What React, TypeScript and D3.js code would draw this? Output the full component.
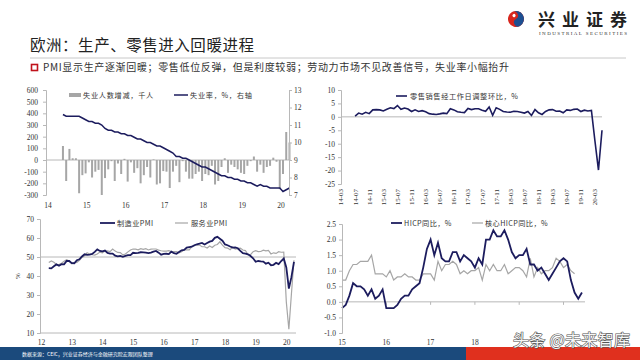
import * as d3 from "d3";
import { useEffect, useRef } from "react";

const NAVY = "#1c1c5e";
const GRAY = "#a6a6a6";
const AXIS = "#b8b8b8";
const NUM_FONT = "'Liberation Serif', 'Times New Roman', serif";
const CJK_FONT = "'Noto Sans CJK SC', 'Noto Sans', sans-serif";

// ---- chart 1: unemployment (monthly from 2014-05) ----
const unempYears = [2014, 2015, 2016, 2017, 2018, 2019, 2020];
const unempLeftTicks = [600, 500, 400, 300, 200, 100, 0, -100, -200, -300];
const unempRightTicks = [13, 12, 11, 10, 9, 8, 7];
const unempChange = [
  120, -180, 95, 15, 15, -285, -130, -115, -20, -150,
  -100, -85, -300, -155, -80, -10, -180, -30, -120, 10,
  -185, -20, -110, -70, -200, -130, -60, -150, 5, -210,
  -200, -95, -100, -240, -100, -50, -190, -10, -100, -160,
  -160, -120, -100, -180, -120, -130, -50, -210, -180, -60,
  15, -110, -40, -60, -80, -110, -120, -50, -10, 30,
  -100, -40, -110, -60, -50, 20, -15, -250, -120, 240, 150,
];
const unempRate = [
  11.6, 11.5, 11.5, 11.5, 11.5, 11.5, 11.4, 11.3,
  11.2, 11.2, 11.1, 11.1, 11.0, 10.8, 10.7, 10.7, 10.6, 10.6, 10.5, 10.5,
  10.4, 10.4, 10.3, 10.2, 10.2, 10.1, 10.0, 10.0, 9.9, 9.8, 9.8, 9.7,
  9.6, 9.5, 9.4, 9.2, 9.2, 9.1, 9.1, 9.0, 8.9, 8.8, 8.7, 8.6,
  8.6, 8.5, 8.4, 8.3, 8.2, 8.1, 8.1, 8.0, 8.0, 7.9, 7.9, 7.8,
  7.8, 7.7, 7.7, 7.6, 7.5, 7.6, 7.5, 7.5, 7.4, 7.4, 7.4, 7.4,
  7.2, 7.3, 7.4,
];

// ---- chart 2: retail sales mom (categories 2014-03 .. 2020-05, data from 2014-07) ----
const retailTickLabels = [
  "14-03", "14-07", "14-11", "15-03", "15-07", "15-11", "16-03", "16-07", "16-11",
  "17-03", "17-07", "17-11", "18-03", "18-07", "18-11", "19-03", "19-07", "19-11", "20-03",
];
const retailTicks = [10, 5, 0, -5, -10, -15, -20, -25];
const retailMoM = [
  0.3, 1.4, 1.0, 1.7, 1.2, 2.6,
  2.7, 2.6, 2.2, 2.8, 3.4, 3.1, 4.2, 2.8, 3.3, 2.9, 2.0, 2.6,
  2.0, 2.3, 1.9, 1.2, 1.0, 0.9, 1.1, 1.4, 1.2, 3.0, 2.6, 1.9,
  1.7, 1.6, 3.1, 2.7, 3.0, 3.0, 2.5, 2.1, 3.7, 0.6, 3.4, 2.8,
  2.0, 1.8, 1.7, 2.1, 2.0, 1.7, 1.4, 2.0, 0.5, 2.7, 1.5, 0.9,
  2.0, 2.6, 2.7, 2.1, 2.2, 1.5, 2.6, 2.4, 2.8, 2.9, 2.0, 2.5,
  2.2, 2.4, -9.0, -19.8, -5.0,
];

// ---- chart 3: PMI (monthly from 2012-06) ----
const pmiYears = [2012, 2013, 2014, 2015, 2016, 2017, 2018, 2019, 2020];
const pmiTicks = [70, 60, 50, 40, 30, 20, 10];
const mfgPmi = [
  44.1, 44.0, 45.1, 46.1, 45.4, 46.2, 46.1,
  47.9, 47.9, 46.8, 46.7, 48.3, 48.8, 50.3, 51.4, 51.1, 51.3, 51.6, 52.7,
  54.0, 53.2, 53.0, 53.4, 52.2, 51.8, 51.8, 50.7, 50.3, 50.6, 50.1, 50.6,
  51.0, 51.0, 52.2, 52.0, 52.2, 52.5, 52.4, 52.3, 52.0, 52.3, 52.8, 53.2,
  52.3, 51.2, 51.6, 51.7, 51.5, 52.8, 52.0, 51.7, 52.6, 53.5, 53.7, 54.9,
  55.2, 55.4, 56.2, 56.7, 57.0, 57.4, 56.6, 57.4, 58.1, 58.5, 60.1, 60.6,
  59.6, 58.6, 56.6, 56.2, 55.5, 54.9, 55.1, 54.6, 53.2, 52.0, 51.8, 51.4,
  50.5, 49.3, 47.5, 47.9, 47.7, 47.6, 46.5, 47.0, 45.7, 45.9, 46.9, 46.3,
  47.9, 49.2, 44.5, 33.4, 39.4, 47.4,
];
const svcPmi = [
  47.1, 47.9, 47.2, 46.1, 46.0, 46.7, 47.8,
  48.6, 47.9, 46.4, 47.0, 47.2, 48.3, 49.8, 50.7, 52.2, 51.6, 51.2, 51.0,
  51.6, 52.6, 52.2, 53.1, 53.2, 52.8, 54.2, 53.1, 52.4, 52.3, 51.1, 51.6,
  52.7, 53.7, 54.2, 54.1, 53.8, 54.4, 54.0, 54.4, 53.7, 54.1, 54.2, 54.2,
  53.6, 53.3, 53.1, 53.1, 53.3, 52.8, 52.9, 52.8, 52.2, 52.8, 53.8, 53.7,
  53.7, 55.5, 56.0, 56.4, 56.3, 55.4, 55.4, 54.7, 55.8, 55.0, 56.2, 56.6,
  58.0, 56.2, 54.9, 54.7, 53.8, 55.2, 54.2, 54.4, 54.7, 53.7, 53.4, 51.2,
  51.2, 52.8, 53.3, 52.8, 52.9, 53.6, 53.2, 53.5, 51.6, 52.2, 51.9, 52.8,
  52.5, 52.6, 26.4, 12.0, 30.5, 48.3,
];

// ---- chart 4: HICP (monthly from 2015-01) ----
const hicpYears = [2015, 2016, 2017, 2018];
const hicpTicks = [2.5, 2.0, 1.5, 1.0, 0.5, 0.0, -0.5, -1.0];
const hicp = [
  -0.2, -0.1, 0.2, 0.6, 0.5, 0.5, 0.4, 0.2, 0.4, 0.1, 0.2, 0.4,
  -0.2, -0.2, -0.2, -0.1, 0.1, 0.2, 0.2, 0.4, 0.5, 0.6, 1.1, 1.7,
  2.0, 1.5, 1.9, 1.4, 1.3, 1.3, 1.6, 1.6, 1.3, 1.5, 1.4, 1.3,
  1.1, 1.4, 1.2, 2.0, 2.0, 2.3, 2.1, 2.1, 2.3, 2.0, 1.6, 1.4,
  1.5, 1.5, 1.7, 1.2, 1.2, 1.0, 1.1, 0.9, 0.7, 0.9, 1.1, 1.3,
  1.4, 1.3, 0.7, 0.3, 0.1, 0.3,
];
const coreHicp = [
  0.7, 0.7, 1.0, 1.2, 1.2, 1.3, 1.3, 1.3, 1.5, 0.9, 0.9, 0.9,
  0.8, 1.0, 0.7, 0.8, 0.8, 0.9, 0.8, 0.8, 0.7, 0.7, 0.9, 0.9,
  0.9, 0.7, 1.3, 1.0, 1.2, 1.2, 1.3, 1.2, 0.9, 1.0, 0.9, 1.0,
  1.0, 1.1, 0.7, 1.2, 1.0, 1.2, 1.0, 1.0, 1.2, 0.9, 1.0, 1.1,
  1.1, 1.0, 0.8, 1.4, 0.8, 1.1, 0.9, 1.0, 1.0, 1.1, 1.4, 1.3,
  1.1, 1.2, 1.0, 0.9,
];

const monthT = (y, m, i) => y + (m - 1 + i) / 12;

function styleAxis(g) {
  g.attr("font-family", NUM_FONT).attr("font-size", 7.5);
  g.select(".domain").attr("stroke", AXIS);
  g.selectAll(".tick line").attr("stroke", AXIS);
  g.selectAll(".tick text").attr("fill", "#333");
}

function cjk(svg, x, y, str, size, fill = "#333") {
  return svg.append("text").attr("x", x).attr("y", y).attr("font-family", CJK_FONT)
    .attr("font-size", size).attr("fill", fill).text(str);
}

const App = () => {
  const ref = useRef(null);

  useEffect(() => {
    const svg = d3.select(ref.current);
    svg.selectAll("*").remove();
    svg.append("rect").attr("width", 640).attr("height", 360).attr("fill", "#fff");

    // header
    cjk(svg, 30, 51, "欧洲：生产、零售进入回暖进程", 15.5, "#222").attr("textLength", 224);
    svg.append("line").attr("x1", 30).attr("x2", 626).attr("y1", 58).attr("y2", 58)
      .attr("stroke", "#c8c8c8").attr("stroke-width", 1);
    svg.append("rect").attr("x", 31.5).attr("y", 64.5).attr("width", 6).attr("height", 6)
      .attr("fill", "none").attr("stroke", "#c0121b").attr("stroke-width", 1.6);
    cjk(svg, 43, 71, "PMI显示生产逐渐回暖；零售低位反弹，但是利度较弱；劳动力市场不见改善信号，失业率小幅抬升", 10, "#333")
      .attr("textLength", 466);

    // logo
    const lg = svg.append("g").attr("transform", "translate(516,19) rotate(-30)");
    lg.append("circle").attr("r", 8).attr("fill", "#d7261e");
    lg.append("path").attr("d", "M0,-8 A8,8 0 0 1 0,8 A4,4 0 0 1 0,0 A4,4 0 0 0 0,-8 Z").attr("fill", "#1d4f91");
    lg.append("circle").attr("cx", 0).attr("cy", -4).attr("r", 1.6).attr("fill", "#fff");
    svg.append("text").attr("x", 538).attr("y", 26).attr("font-family", CJK_FONT).attr("font-weight", 700)
      .attr("font-size", 17).attr("fill", "#222").attr("textLength", 89).text("兴业证券");
    svg.append("text").attr("x", 539).attr("y", 35).attr("font-family", NUM_FONT)
      .attr("font-size", 5).attr("fill", "#333").attr("textLength", 88).text("INDUSTRIAL SECURITIES");

    // ---------- chart 1 ----------
    {
      const x = d3.scaleLinear().domain([2014, 2020]).range([50, 283]);
      const yL = d3.scaleLinear().domain([-300, 600]).range([195, 90]);
      const yR = d3.scaleLinear().domain([7, 13]).range([195, 90]);
      const g = svg.append("g");
      g.append("line").attr("x1", 46).attr("x2", 289).attr("y1", yL(0)).attr("y2", yL(0)).attr("stroke", AXIS);
      g.selectAll(".bar").data(unempChange).enter().append("rect")
        .attr("x", (d, i) => x(monthT(2014, 5, i)) - 1)
        .attr("y", (d) => Math.min(yL(d), yL(0)))
        .attr("width", 2)
        .attr("height", (d) => Math.abs(yL(d) - yL(0)))
        .attr("fill", GRAY);
      const line = d3.line().x((d, i) => x(monthT(2014, 5, i))).y((d) => yR(d));
      g.append("path").datum(unempRate).attr("d", line).attr("fill", "none")
        .attr("stroke", NAVY).attr("stroke-width", 1.5);
      g.append("g").attr("transform", "translate(46,0)")
        .call(d3.axisLeft(yL).tickValues(unempLeftTicks).tickSize(3).tickPadding(5).tickFormat((d) => String(d)))
        .call(styleAxis);
      g.append("g").attr("transform", "translate(289,0)")
        .call(d3.axisRight(yR).tickValues(unempRightTicks).tickSize(3).tickPadding(2).tickFormat((d) => String(d)))
        .call(styleAxis);
      g.selectAll(".xl").data(unempYears).enter().append("text")
        .attr("x", (d) => x(d) - 2).attr("y", 208).attr("text-anchor", "middle")
        .attr("font-family", NUM_FONT).attr("font-size", 7.5).attr("fill", "#333")
        .text((d) => String(d).slice(2));
      g.append("rect").attr("x", 69).attr("y", 93).attr("width", 12).attr("height", 4).attr("fill", GRAY);
      cjk(g, 83, 97.5, "失业人数增减，千人", 7.2).attr("letter-spacing", 0.7);
      g.append("line").attr("x1", 174).attr("x2", 188).attr("y1", 95).attr("y2", 95).attr("stroke", NAVY).attr("stroke-width", 1.5);
      cjk(g, 190, 97.5, "失业率，%，右轴", 7.2).attr("letter-spacing", 0.7);
    }

    // ---------- chart 2 ----------
    {
      const cats = d3.timeMonth.range(new Date(2014, 2, 1), new Date(2020, 5, 1))
        .map((d) => d3.timeFormat("%y-%m")(d));
      const x = d3.scalePoint().domain(cats).range([341, 602]);
      const y = d3.scaleLinear().domain([-25, 10]).range([184, 90]);
      const g = svg.append("g");
      g.append("line").attr("x1", 341).attr("x2", 602).attr("y1", y(0)).attr("y2", y(0)).attr("stroke", AXIS);
      const offset = cats.indexOf("14-07");
      const line = d3.line().x((d, i) => x(cats[i + offset])).y((d) => y(d));
      g.append("path").datum(retailMoM).attr("d", line).attr("fill", "none")
        .attr("stroke", NAVY).attr("stroke-width", 1.6);
      g.append("g").attr("transform", "translate(341,0)")
        .call(d3.axisLeft(y).tickValues(retailTicks).tickSize(3).tickPadding(3).tickFormat((d) => String(d)))
        .call(styleAxis);
      g.selectAll(".xl").data(retailTickLabels).enter().append("text")
        .attr("transform", (d) => `translate(${x(d)},189) rotate(-90)`)
        .attr("text-anchor", "end").attr("dy", "0.35em")
        .attr("font-family", NUM_FONT).attr("font-size", 7).attr("fill", "#333").text((d) => d);
      g.append("line").attr("x1", 396).attr("x2", 407).attr("y1", 96).attr("y2", 96).attr("stroke", NAVY).attr("stroke-width", 1.6);
      cjk(g, 410, 98.5, "零售销售经工作日调整环比，%", 7.2).attr("letter-spacing", 0.6);
    }

    // ---------- chart 3 ----------
    {
      const x = d3.scaleLinear().domain([2012, 2020]).range([36, 281.2]);
      const y = d3.scaleLinear().domain([10, 70]).range([333, 219]);
      const g = svg.append("g");
      g.append("line").attr("x1", 40).attr("x2", 296).attr("y1", y(50)).attr("y2", y(50)).attr("stroke", AXIS);
      g.append("line").attr("x1", 40).attr("x2", 296).attr("y1", y(10)).attr("y2", y(10)).attr("stroke", AXIS);
      const line = d3.line().x((d, i) => x(monthT(2012, 6, i))).y((d) => y(d));
      g.append("path").datum(svcPmi).attr("d", line).attr("fill", "none")
        .attr("stroke", GRAY).attr("stroke-width", 1.2);
      g.append("path").datum(mfgPmi).attr("d", line).attr("fill", "none")
        .attr("stroke", NAVY).attr("stroke-width", 1.8);
      g.append("g").attr("transform", "translate(40,0)")
        .call(d3.axisLeft(y).tickValues(pmiTicks).tickSize(3).tickPadding(3).tickFormat((d) => String(d)))
        .call(styleAxis);
      g.selectAll(".xl").data(pmiYears).enter().append("text")
        .attr("x", (d) => x(d) + 5.5).attr("y", 344.5).attr("text-anchor", "middle")
        .attr("font-family", NUM_FONT).attr("font-size", 7.5).attr("fill", "#333")
        .text((d) => String(d).slice(2));
      g.append("text").attr("transform", "translate(20,276) rotate(-90)").attr("text-anchor", "middle")
        .attr("font-family", NUM_FONT).attr("font-size", 7).attr("fill", "#333").text("%");
      g.append("line").attr("x1", 100).attr("x2", 115).attr("y1", 223).attr("y2", 223).attr("stroke", NAVY).attr("stroke-width", 1.8);
      cjk(g, 117, 225.5, "制造业PMI", 7.2).attr("letter-spacing", 0.4);
      g.append("line").attr("x1", 175).attr("x2", 188).attr("y1", 223).attr("y2", 223).attr("stroke", GRAY).attr("stroke-width", 1.2);
      cjk(g, 191, 225.5, "服务业PMI", 7.2).attr("letter-spacing", 0.4);
    }

    // ---------- chart 4 ----------
    {
      const x = d3.scaleLinear().domain([2015, 2020]).range([342, 563.5]);
      const y = d3.scaleLinear().domain([-1, 2.5]).range([333, 224]);
      const g = svg.append("g");
      g.append("line").attr("x1", 342).attr("x2", 585).attr("y1", y(0)).attr("y2", y(0)).attr("stroke", AXIS);
      g.selectAll(".xt").data([2016, 2017, 2018, 2019, 2020]).enter().append("line")
        .attr("x1", (d) => x(d)).attr("x2", (d) => x(d)).attr("y1", y(0)).attr("y2", y(0) + 3).attr("stroke", AXIS);
      const line = d3.line().x((d, i) => x(monthT(2015, 1, i))).y((d) => y(d));
      g.append("path").datum(coreHicp).attr("d", line).attr("fill", "none")
        .attr("stroke", GRAY).attr("stroke-width", 1.2);
      g.append("path").datum(hicp).attr("d", line).attr("fill", "none")
        .attr("stroke", NAVY).attr("stroke-width", 1.8);
      g.append("g").attr("transform", "translate(342,0)")
        .call(d3.axisLeft(y).tickValues(hicpTicks).tickSize(3).tickPadding(3).tickFormat((d) => d.toFixed(1)))
        .call(styleAxis);
      g.selectAll(".xl").data(hicpYears).enter().append("text")
        .attr("x", (d) => x(d)).attr("y", 344.5).attr("text-anchor", "middle")
        .attr("font-family", NUM_FONT).attr("font-size", 7.5).attr("fill", "#333")
        .text((d) => String(d).slice(2));
      g.append("line").attr("x1", 391).attr("x2", 402).attr("y1", 223).attr("y2", 223).attr("stroke", NAVY).attr("stroke-width", 1.8);
      cjk(g, 404, 225.5, "HICP同比，%", 7.2).attr("letter-spacing", 0.4);
      g.append("line").attr("x1", 472).attr("x2", 483).attr("y1", 223).attr("y2", 223).attr("stroke", GRAY).attr("stroke-width", 1.2);
      cjk(g, 485, 225.5, "核心HICP同比，%", 7.2).attr("letter-spacing", 0.4);
    }

    // footer
    svg.append("rect").attr("x", 0).attr("y", 347).attr("width", 466).attr("height", 13).attr("fill", "#1b4a7c");
    svg.append("rect").attr("x", 466).attr("y", 347).attr("width", 174).attr("height", 13).attr("fill", "#e0301e");
    cjk(svg, 22, 355.5, "数据来源：CEIC，兴业证券经济与金融研究院宏观团队整理", 5, "#fff");
    svg.append("text").attr("x", 513).attr("y", 346).attr("font-family", CJK_FONT).attr("font-size", 16)
      .attr("fill", "#f6f6f6").attr("stroke", "#555").attr("stroke-width", 1.2).attr("paint-order", "stroke")
      .attr("textLength", 117).text("头条 @未来智库");
  }, []);

  return (
    <svg ref={ref} width={640} height={360}
      style={{ position: "fixed", left: 0, top: 0, display: "block" }} />
  );
};

export default App;
